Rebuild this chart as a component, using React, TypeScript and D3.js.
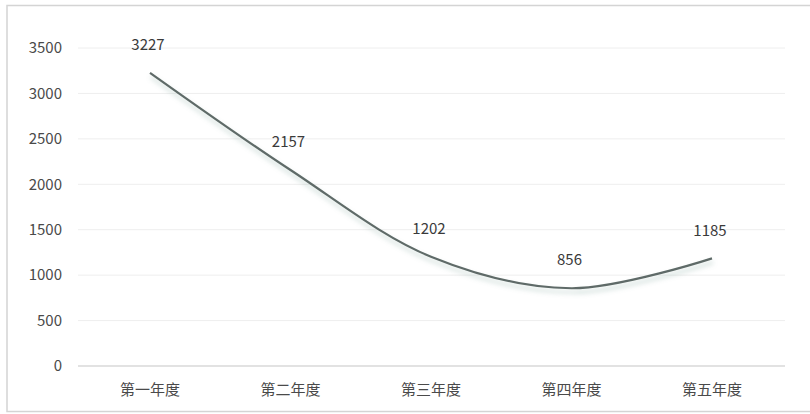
import React from "react";
import * as d3 from "d3";

const categories = ["第一年度", "第二年度", "第三年度", "第四年度", "第五年度"];
const values = [3227, 2157, 1202, 856, 1185];
const yTicks = [0, 500, 1000, 1500, 2000, 2500, 3000, 3500];

const W = 810;
const H = 414;
const plotLeft = 78;
const plotRight = 785;
const plotTop = 48;
const plotBottom = 366;
const font = "'Noto Sans CJK SC', 'Noto Sans', sans-serif";

export default function App() {
  const x = d3.scalePoint<string>().domain(categories).range([150, 712]);
  const y = d3.scaleLinear().domain([0, 3500]).range([plotBottom, plotTop]);
  const line = d3
    .line<number>()
    .x((_, i) => x(categories[i]) as number)
    .y((d) => y(d))
    .curve(d3.curveCatmullRom.alpha(0.5));
  const path = line(values) || "";

  return (
    <svg
      width={W}
      height={H}
      style={{ position: "absolute", left: 0, top: 0, background: "#fff" }}
    >
      <defs>
        <filter id="shadow" x="-10%" y="-20%" width="120%" height="150%">
          <feGaussianBlur in="SourceAlpha" stdDeviation="2.5" result="blur" />
          <feOffset in="blur" dx="1" dy="4" result="off" />
          <feFlood floodColor="#7fa39a" floodOpacity="0.45" />
          <feComposite in2="off" operator="in" result="sh" />
          <feMerge>
            <feMergeNode in="sh" />
            <feMergeNode in="SourceGraphic" />
          </feMerge>
        </filter>
      </defs>
      <rect x={7} y={5.5} width={808} height={406} fill="#fff" stroke="#d4d4d4" strokeWidth={1.5} />
      {yTicks.map((t) => (
        <g key={t}>
          {t > 0 && (
            <line x1={plotLeft} x2={plotRight} y1={y(t)} y2={y(t)} stroke="#eeeeee" strokeWidth={1} />
          )}
          <text
            x={62}
            y={y(t)}
            dy="0.35em"
            textAnchor="end"
            fontFamily={font}
            fontSize={15}
            fill="#4a4a4a"
          >
            {t}
          </text>
        </g>
      ))}
      <line x1={plotLeft} x2={plotRight} y1={plotBottom} y2={plotBottom} stroke="#d9d9d9" strokeWidth={1.5} />
      {categories.map((c) => (
        <text
          key={c}
          x={x(c) as number}
          y={390}
          dy="0.35em"
          textAnchor="middle"
          fontFamily={font}
          fontSize={15}
          fill="#4a4a4a"
        >
          {c}
        </text>
      ))}
      <path d={path} fill="none" stroke="#5f6b68" strokeWidth={2.2} filter="url(#shadow)" />
      {values.map((v, i) => (
        <text
          key={i}
          x={x(categories[i]) as number - 2}
          y={y(v) - 28}
          dy="0.35em"
          textAnchor="middle"
          fontFamily={font}
          fontSize={15}
          fill="#3a3a3a"
        >
          {v}
        </text>
      ))}
    </svg>
  );
}
